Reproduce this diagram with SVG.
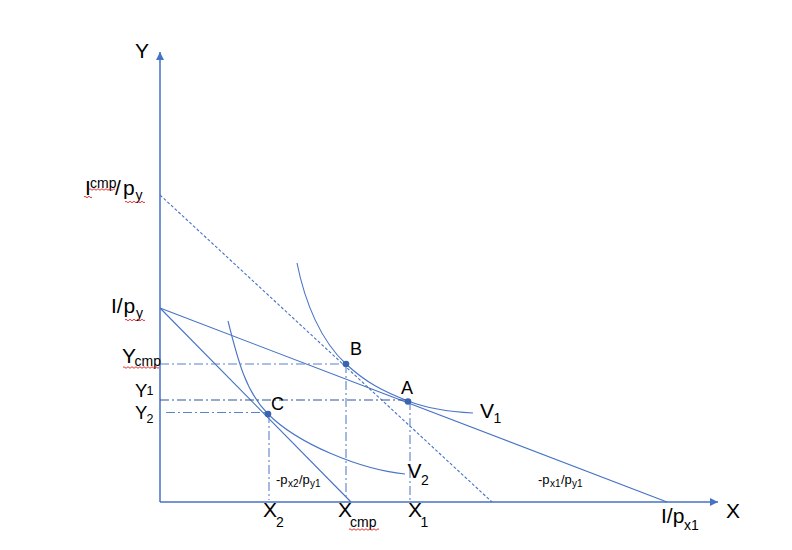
<svg xmlns="http://www.w3.org/2000/svg" width="792" height="550" viewBox="0 0 792 550">
<style>
  .axis{stroke:#4472C4;stroke-width:1.5;fill:none}
  .line{stroke:#4472C4;stroke-width:1.1;fill:none}
  .curve{stroke:#4A75C6;stroke-width:1.1;fill:none}
  .dash{stroke:#4472C4;stroke-width:1.1;fill:none;stroke-dasharray:3 2}
  .dd{stroke:#5B82CC;stroke-width:1.1;fill:none;stroke-dasharray:9 3 2 3}
  .dd2{stroke:#2F5597;stroke-width:1.1;fill:none;stroke-dasharray:9 3 2 3}
  .dot{fill:#3A64B0}
  .sq{stroke:#E02020;stroke-width:0.9;fill:none}
  text{font-family:"Liberation Sans",Arial,sans-serif;fill:#000}
  .big{font-size:21px}
  .ylab{font-size:18.5px}
  .ysub{font-size:12.5px}
  .mid{font-size:18px}
  .sub{font-size:14px}
  .sm{font-size:13px}
  .smsub{font-size:10px}
</style>
<defs>
  <marker id="arr" markerUnits="userSpaceOnUse" markerWidth="10" markerHeight="10" refX="8" refY="4" orient="auto">
    <path d="M0,0 L8,4 L0,8 Z" fill="#4472C4"/>
  </marker>
</defs>
<rect width="792" height="550" fill="#fff"/>

<g id="connectors">
  <line id="y-axis" class="axis" x1="160" y1="502" x2="160" y2="52" marker-end="url(#arr)"/>
  <line id="x-axis" class="axis" x1="160" y1="502" x2="718" y2="502" marker-end="url(#arr)"/>
  <line id="budget1" class="line" x1="160" y1="308" x2="667" y2="502"/>
  <line id="budget2" class="line" x1="160" y1="308" x2="351" y2="502"/>
  <line id="budget-cmp" class="dash" x1="160" y1="195" x2="492" y2="502"/>
  <path id="V1-curve" class="curve" d="M297,263 C305,303 321,341 346,364 C366,382.5 383,391.4 408,401 C428,408.7 448,411.8 473,413"/>
  <path id="V2-curve" class="curve" d="M228,321 C238,361 246,392 268,414 C298,444 360,469.5 405,474"/>
  <line class="dd" x1="160" y1="364" x2="346" y2="364"/>
  <line class="dd2" x1="160" y1="400" x2="408" y2="400"/>
  <line class="dd" x1="166" y1="412.5" x2="268" y2="412.5"/>
  <line class="dd" x1="346" y1="364" x2="346" y2="500"/>
  <line class="dd" x1="410" y1="401" x2="410" y2="500"/>
  <line class="dd" x1="269" y1="414" x2="269" y2="500"/>
</g>

<g id="point-B"><circle class="dot" cx="346" cy="364" r="3.3"/><text class="mid" x="350" y="355">B</text></g>
<g id="point-A"><circle class="dot" cx="408" cy="401.5" r="3.3"/><text class="mid" x="401" y="394">A</text></g>
<g id="point-C"><circle class="dot" cx="268" cy="414" r="3.3"/><text class="mid" x="271" y="410">C</text></g>

<g id="label-Y"><text class="big" x="135" y="58">Y</text></g>
<g id="label-X"><text class="big" x="726" y="518">X</text></g>

<g id="label-Icmp-py">
  <text class="big"><tspan x="85" y="195">I</tspan><tspan class="sub" x="90" y="188">cmp</tspan><tspan x="115" y="195">/</tspan><tspan x="123" y="195">p</tspan><tspan class="sub" x="135.5" y="200">y</tspan></text>
  <path class="sq" d="M84,197 q1,-1.5 2,0 t2,0 t2,0 t2,0"/>
  <path class="sq" d="M89,189.5 q1,-1.5 2,0 t2,0 t2,0 t2,0 t2,0 t2,0 t2,0 t2,0 t2,0 t2,0 t2,0 t2,0 t2,0"/>
  <path class="sq" d="M125,202 q1,-1.5 2,0 t2,0 t2,0 t2,0 t2,0 t2,0 t2,0 t2,0 t2,0 t2,0"/>
</g>
<g id="label-I-py">
  <text class="big"><tspan x="111" y="313">I/</tspan><tspan x="123.5" y="313">p</tspan><tspan class="sub" x="136" y="318">y</tspan></text>
  <path class="sq" d="M125,320 q1,-1.5 2,0 t2,0 t2,0 t2,0 t2,0 t2,0 t2,0 t2,0 t2,0 t2,0"/>
</g>
<g id="label-Ycmp">
  <text class="big"><tspan x="122" y="363">Y</tspan><tspan class="sub" x="134.5" y="366">cmp</tspan></text>
  <path class="sq" d="M123,367.5 q1,-1.5 2,0 t2,0 t2,0 t2,0 t2,0 t2,0 t2,0 t2,0 t2,0 t2,0 t2,0 t2,0 t2,0 t2,0 t2,0 t2,0 t2,0 t2,0"/>
</g>
<g id="label-Y1"><text class="ylab"><tspan x="135" y="397">Y</tspan><tspan class="ysub" x="146.5" y="394.5">1</tspan></text></g>
<g id="label-Y2"><text class="ylab"><tspan x="135" y="419">Y</tspan><tspan class="ysub" x="146.5" y="423">2</tspan></text></g>

<g id="label-X2"><text class="big"><tspan x="263" y="517">X</tspan><tspan class="sub" x="276" y="527">2</tspan></text></g>
<g id="label-Xcmp">
  <text class="big"><tspan x="338" y="517">X</tspan><tspan class="sub" x="350" y="527">cmp</tspan></text>
  <path class="sq" d="M349,529.5 q1,-1.5 2,0 t2,0 t2,0 t2,0 t2,0 t2,0 t2,0 t2,0 t2,0 t2,0 t2,0 t2,0 t2,0 t2,0 t2,0"/>
</g>
<g id="label-X1"><text class="big"><tspan x="408" y="517">X</tspan><tspan class="sub" x="420.5" y="527">1</tspan></text></g>
<g id="label-I-px1"><text class="big"><tspan x="661" y="523">I/p</tspan><tspan class="sub" x="684" y="530">x1</tspan></text></g>

<g id="label-V1"><text class="big"><tspan x="480" y="418">V</tspan><tspan class="sub" x="493.5" y="423">1</tspan></text></g>
<g id="label-V2"><text class="big"><tspan x="407.5" y="478">V</tspan><tspan class="sub" x="421" y="485">2</tspan></text></g>

<g id="label-slope2"><text class="sm"><tspan x="276" y="484">-p</tspan><tspan class="smsub" x="288" y="487">x2</tspan><tspan x="299" y="484">/p</tspan><tspan class="smsub" x="310" y="487">y1</tspan></text></g>
<g id="label-slope1"><text class="sm"><tspan x="538" y="484">-p</tspan><tspan class="smsub" x="550" y="487">x1</tspan><tspan x="561" y="484">/p</tspan><tspan class="smsub" x="572" y="487">y1</tspan></text></g>
</svg>
